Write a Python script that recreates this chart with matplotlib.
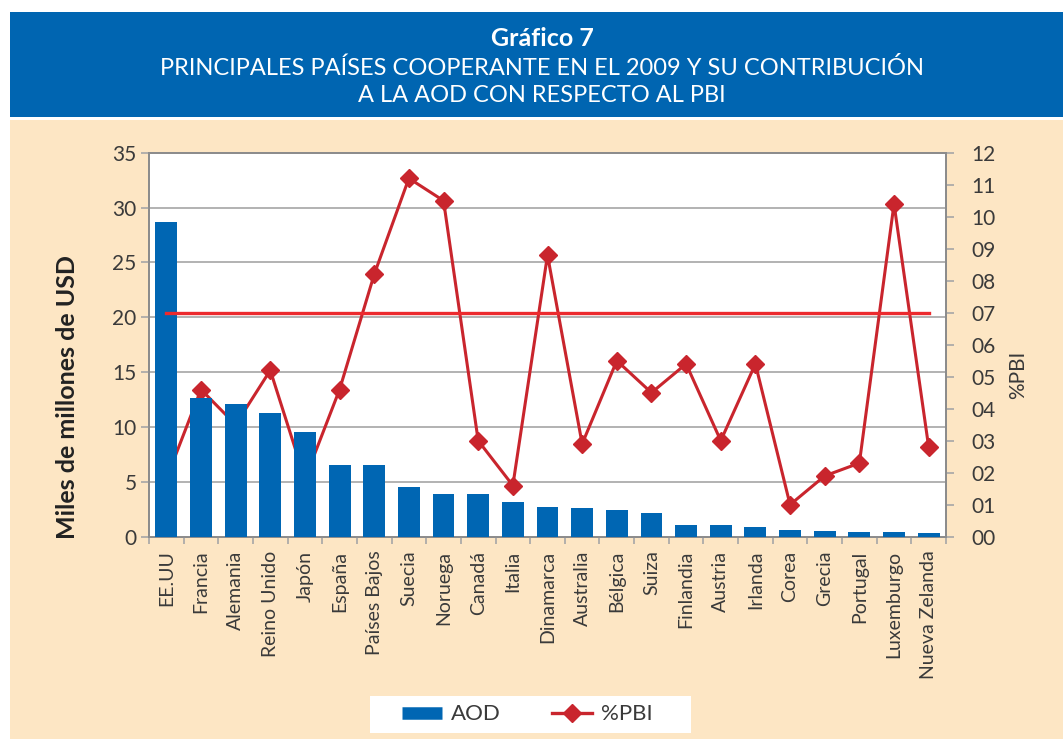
import numpy as np
import matplotlib
matplotlib.use('Agg')
import matplotlib.pyplot as plt
from matplotlib.lines import Line2D
from matplotlib.patches import Rectangle

plt.rcParams['font.family'] = ['Lato', 'DejaVu Sans']

paises = ['EE.UU', 'Francia', 'Alemania', 'Reino Unido', 'Japón', 'España',
	'Países Bajos', 'Suecia', 'Noruega', 'Canadá', 'Italia', 'Dinamarca',
	'Australia', 'Bélgica', 'Suiza', 'Finlandia', 'Austria', 'Irlanda',
	'Corea', 'Grecia', 'Portugal', 'Luxemburgo', 'Nueva Zelanda']
# miles de millones de USD
aod = [28.7, 12.6, 12.1, 11.3, 9.5, 6.5, 6.5, 4.5, 3.9, 3.9, 3.2, 2.7,
	2.6, 2.4, 2.2, 1.1, 1.1, 0.9, 0.6, 0.5, 0.4, 0.4, 0.3]
# % del PBI
pbi = [0.18, 0.46, 0.35, 0.52, 0.18, 0.46, 0.82, 1.12, 1.05, 0.30, 0.16, 0.88,
	0.29, 0.55, 0.45, 0.54, 0.30, 0.54, 0.10, 0.19, 0.23, 1.04, 0.28]
meta = 0.7

left_ticks = [0, 5, 10, 15, 20, 25, 30, 35]
right_ticks = [0.0, 0.1, 0.2, 0.3, 0.4, 0.5, 0.6, 0.7, 0.8, 0.9, 1.0, 1.1, 1.2]
right_labels = ['00', '01', '02', '03', '04', '05', '06', '07', '08', '09', '10', '11', '12']

blue = '#0066B3'
red = '#C9252D'
red_meta = '#EC2A2E'
beige = '#FDE6C4'
grid_c = '#A6A6A6'
text_c = '#3A3A3A'

W, H = 1063, 740
fig = plt.figure(figsize=(W/100, H/100), dpi=100)
fig.patch.set_facecolor('white')

def box(x0, y0, x1, y1, color):
	# rectangulo en pixeles (origen arriba a la izquierda)
	fig.add_artist(Rectangle((x0/W, 1-y1/H), (x1-x0)/W, (y1-y0)/H, transform=fig.transFigure,
		facecolor=color, edgecolor='none', zorder=0))

box(10, 12, W, 117, '#0065B1')
box(10, 120, W, 739, beige)

fig.text(542/W, 1-39/H, 'Gráfico 7', color='white', fontsize=18, fontweight='bold',
	ha='center', va='center')
fig.text(542/W, 1-68/H, 'PRINCIPALES PAÍSES COOPERANTE EN EL 2009 Y SU CONTRIBUCIÓN',
	color='white', fontsize=17, ha='center', va='center')
fig.text(542/W, 1-96/H, 'A LA AOD CON RESPECTO AL PBI',
	color='white', fontsize=17, ha='center', va='center')

ax = fig.add_axes([149/W, 1-536.7/H, (946-149)/W, 384/H])
ax2 = ax.twinx()
ax.set_zorder(ax2.get_zorder() + 1)
ax.patch.set_visible(False)
ax2.patch.set_visible(True)
ax2.patch.set_facecolor('white')

x = np.arange(len(paises))

# lineas de grilla (eje izquierdo) dibujadas detras de la linea
ax2.hlines(left_ticks[1:-1], 0, 1, transform=ax.get_yaxis_transform(),
	colors=grid_c, lw=1.2, zorder=0)

ax2.plot(x, pbi, color=red, lw=2.2, marker='D', markersize=9, zorder=3)
ax.bar(x, aod, width=0.63, color=blue, zorder=3)
ax.plot(x, [meta]*len(x), color=red_meta, lw=2.4, transform=ax2.transData, zorder=4)

ax.set_xlim(-0.5, len(paises)-0.5)
ax.set_ylim(0, 35)
ax2.set_ylim(0, 1.2)

ax.set_yticks(left_ticks)
ax.set_yticklabels([str(t) for t in left_ticks])
ax2.set_yticks(right_ticks)
ax2.set_yticklabels(right_labels)

ax.set_xticks(x)
ax.set_xticklabels(paises, rotation=90)
ax.set_xticks(np.arange(len(paises)+1) - 0.5, minor=True)
ax.tick_params(axis='x', which='major', length=0, pad=10, labelsize=14, labelcolor=text_c)
ax.tick_params(axis='x', which='minor', length=5, color=grid_c, width=1.2)
ax.tick_params(axis='y', length=6, color=grid_c, width=1.2, pad=3, labelsize=15, labelcolor=text_c)
ax2.tick_params(axis='y', length=6, color=grid_c, width=1.2, pad=12, labelsize=15, labelcolor=text_c)

for a in (ax, ax2):
	for s in a.spines.values():
		s.set_color('#8C8C8C')
		s.set_linewidth(1.3)

ax.set_ylabel('Miles de millones de USD', fontsize=18, fontweight='bold', color='#222222')
ax.yaxis.set_label_coords((79-149)/797, (536.7-397)/384)
ax2.set_ylabel('%PBI', fontsize=15, color=text_c)
ax2.yaxis.set_label_coords((1008-149)/797, (536.7-375)/384)

# leyenda
box(370, 696, 691, 733, 'white')
handles = [Line2D([0], [0], color=blue, lw=9, solid_capstyle='butt'),
	Line2D([0], [0], color=red, lw=2.4, marker='D', markersize=9)]
fig.legend(handles, ['AOD', '%PBI'], loc='center', bbox_to_anchor=(527/W, 1-714.5/H),
	ncol=2, frameon=False, fontsize=16, handlelength=1.8, handletextpad=0.4,
	columnspacing=2.3, labelcolor=text_c)

fig.savefig('out.png', dpi=100)
